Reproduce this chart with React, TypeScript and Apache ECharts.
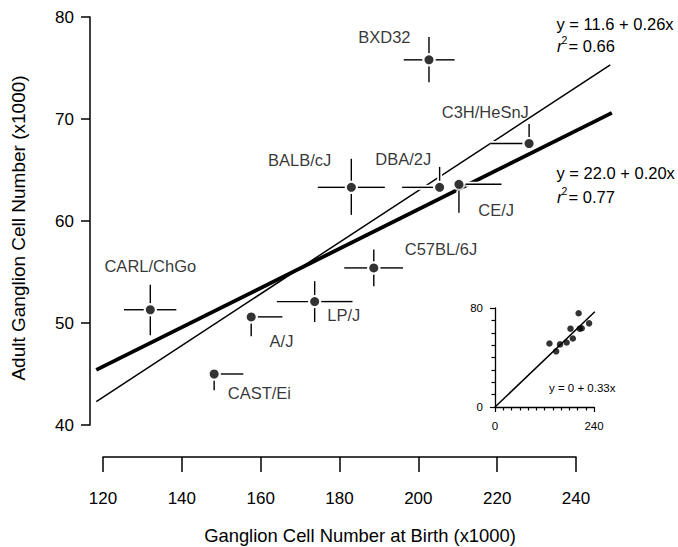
import React, { useEffect, useRef } from "react";
import * as echarts from "echarts";

// ---- data ----
const strains = ["BXD32", "C3H/HeSnJ", "DBA/2J", "BALB/cJ", "CE/J", "C57BL/6J", "CARL/ChGo", "LP/J", "A/J", "CAST/Ei"];
const birthCount = [202.7, 228.1, 205.4, 183.0, 210.3, 188.7, 132.0, 173.7, 157.6, 148.2];
const adultCount = [75.8, 67.6, 63.3, 63.3, 63.6, 55.4, 51.3, 52.1, 50.6, 45.0];
const birthErrLow = [6.4, 9.8, 9.5, 8.5, 0, 7.5, 6.7, 9.6, 0, 0];
const birthErrHigh = [6.5, 0, 0, 8.5, 10.8, 7.4, 6.6, 9.6, 7.9, 7.4];
const adultErrLow = [2.2, 0, 0, 2.7, 2.8, 1.8, 2.5, 2.0, 1.9, 1.6];
const adultErrHigh = [2.25, 1.9, 2.0, 2.8, 0, 1.8, 2.45, 2.0, 0, 0];

const fitThinX = [118.3, 248.7];
const fitThinY = [42.3, 75.3];
const fitThickX = [118.3, 249.1];
const fitThickY = [45.4, 70.6];
const insetFitX = [0, 242];
const insetFitY = [0, 77];

const eqThin = "y = 11.6 + 0.26x";
const r2Thin = "= 0.66";
const eqThick = "y = 22.0 + 0.20x";
const r2Thick = "= 0.77";
const eqInset = "y = 0 + 0.33x";
const xTitle = "Ganglion Cell Number at Birth (x1000)";
const yTitle = "Adult Ganglion Cell Number (x1000)";

// label placement (style, px offsets from dot centre)
const labelOffsets = [
  [-44.6, -22.5], [-43.8, -31], [-36.3, -28.7], [-51.7, -27], [37.2, 26],
  [67.2, -19.3], [0, -43.3], [29.2, 13.7], [30.3, 24.3], [45.2, 19],
];

const FONT = '"Liberation Sans", Arial, Helvetica, sans-serif';

function barsRenderer(color: string, width: number) {
  return (params: any, api: any) => {
    const x = api.value(0), y = api.value(1);
    const xl = api.value(2), xh = api.value(3), yl = api.value(4), yh = api.value(5);
    const c = api.coord([x, y]);
    const gap = 6.5;
    const segs: number[][] = [];
    if (xl > 0) { const p = api.coord([x - xl, y]); segs.push([c[0] - gap, c[1], p[0], p[1]]); }
    if (xh > 0) { const p = api.coord([x + xh, y]); segs.push([c[0] + gap, c[1], p[0], p[1]]); }
    if (yh > 0) { const p = api.coord([x, y + yh]); segs.push([c[0], c[1] - gap, p[0], p[1]]); }
    if (yl > 0) { const p = api.coord([x, y - yl]); segs.push([c[0], c[1] + gap, p[0], p[1]]); }
    return {
      type: "group",
      children: segs.map((s) => ({
        type: "line",
        shape: { x1: s[0], y1: s[1], x2: s[2], y2: s[3] },
        style: { stroke: color, lineWidth: width },
      })),
    };
  };
}

function segRenderer(width: number) {
  return (params: any, api: any) => {
    const a = api.coord([api.value(0), api.value(1)]);
    const b = api.coord([api.value(2), api.value(3)]);
    return {
      type: "line",
      shape: { x1: a[0], y1: a[1], x2: b[0], y2: b[1] },
      style: { stroke: "#000", lineWidth: width, lineCap: "butt" },
    };
  };
}

function txt(x: number, y: number, text: string, size: number, extra: any = {}) {
  return {
    type: "text",
    x, y,
    ...extra,
    style: {
      text,
      font: `${extra.italic ? "italic " : ""}${size}px ${FONT}`,
      fill: "#000",
      align: extra.align || "left",
      textAlign: extra.align || "left",
      verticalAlign: "middle",
      textVerticalAlign: "middle",
    },
  };
}

export default function App() {
  const ref = useRef<HTMLDivElement>(null);
  useEffect(() => {
    if (!ref.current) return;
    const chart = echarts.init(ref.current, undefined, { renderer: "svg" });
    const pts = birthCount.map((b, i) => [b, adultCount[i]]);
    const barData = birthCount.map((b, i) => [b, adultCount[i], birthErrLow[i], birthErrHigh[i], adultErrLow[i], adultErrHigh[i]]);
    const labelled = pts.map((p, i) => ({
      value: p,
      label: {
        show: true,
        position: "inside",
        offset: labelOffsets[i],
        formatter: strains[i],
        color: "#000",
        textBorderWidth: 0,
        fontSize: 16.5,
        fontFamily: FONT,
        align: "center",
        verticalAlign: "middle",
      },
    }));
    const axisCommon = {
      splitLine: { show: false },
      axisLine: { show: true, lineStyle: { color: "#000", width: 1.5 } },
      axisTick: { show: true, lineStyle: { color: "#000", width: 1.5 } },
    };
    const option: any = {
      animation: false,
      backgroundColor: "#fff",
      textStyle: { fontFamily: FONT },
      grid: [
        { left: 103, right: 102, top: 17, bottom: 122 },
        { left: 495, right: 84, top: 308, bottom: 140 },
      ],
      xAxis: [
        {
          type: "value", gridIndex: 0, min: 120, max: 240, interval: 20, offset: 32,
          ...axisCommon,
          axisTick: { show: true, length: 15, lineStyle: { color: "#000", width: 1.5 } },
          axisLabel: { color: "#000", fontSize: 17, margin: 33, fontFamily: FONT },
        },
        {
          type: "value", gridIndex: 1, min: 0, max: 240, interval: 240,
          ...axisCommon,
          axisLine: { show: true, lineStyle: { color: "#000", width: 1.3 } },
          axisTick: { show: true, length: 5, lineStyle: { color: "#000", width: 1.2 } },
          minorTick: { show: true, splitNumber: 12, length: 3.5, lineStyle: { color: "#000", width: 1.2 } },
          axisLabel: { color: "#000", fontSize: 11.5, margin: 13, fontFamily: FONT },
        },
      ],
      yAxis: [
        {
          type: "value", gridIndex: 0, min: 40, max: 80, interval: 10, offset: 13,
          ...axisCommon,
          axisTick: { show: true, length: 9, lineStyle: { color: "#000", width: 1.5 } },
          axisLabel: { color: "#000", fontSize: 17, margin: 16, fontFamily: FONT },
        },
        {
          type: "value", gridIndex: 1, min: 0, max: 80, interval: 80,
          ...axisCommon,
          axisLine: { show: true, lineStyle: { color: "#000", width: 1.3 } },
          axisTick: { show: true, length: 5, lineStyle: { color: "#000", width: 1.2 } },
          minorTick: { show: true, splitNumber: 8, length: 3.5, lineStyle: { color: "#000", width: 1.2 } },
          axisLabel: { color: "#000", fontSize: 11.5, margin: 12, fontFamily: FONT },
        },
      ],
      series: [
        {
          type: "custom", xAxisIndex: 0, yAxisIndex: 0, z: 1, clip: false,
          renderItem: segRenderer(1.5),
          data: [[fitThinX[0], fitThinY[0], fitThinX[1], fitThinY[1]]],
        },
        {
          type: "custom", xAxisIndex: 0, yAxisIndex: 0, z: 1, clip: false,
          renderItem: segRenderer(3.8),
          data: [[fitThickX[0], fitThickY[0], fitThickX[1], fitThickY[1]]],
        },
        {
          type: "custom", xAxisIndex: 0, yAxisIndex: 0, z: 2, clip: false,
          renderItem: barsRenderer("#fff", 5),
          data: barData,
        },
        {
          type: "custom", xAxisIndex: 0, yAxisIndex: 0, z: 3, clip: false,
          renderItem: barsRenderer("#000", 1.4),
          data: barData,
        },
        {
          type: "scatter", xAxisIndex: 0, yAxisIndex: 0, z: 4, symbolSize: 13,
          itemStyle: { color: "#fff" }, data: pts, silent: true,
        },
        {
          type: "scatter", xAxisIndex: 0, yAxisIndex: 0, z: 5, symbolSize: 9,
          itemStyle: { color: "#000" }, data: labelled,
        },
        {
          type: "custom", xAxisIndex: 1, yAxisIndex: 1, z: 1, clip: false,
          renderItem: segRenderer(1.5),
          data: [[insetFitX[0], insetFitY[0], insetFitX[1], insetFitY[1]]],
        },
        {
          type: "scatter", xAxisIndex: 1, yAxisIndex: 1, z: 5, symbolSize: 6.5,
          itemStyle: { color: "#000" }, data: pts,
        },
      ],
      graphic: [
        txt(360, 535, xTitle, 18.4, { align: "center" }),
        txt(18, 228, yTitle, 19, { align: "center", rotation: Math.PI / 2 }),
        txt(556.5, 24, eqThin, 16.5),
        txt(557, 46, "r", 16.5, { italic: true }),
        txt(561.5, 40, "2", 10.5),
        txt(568.5, 46, r2Thin, 16.5),
        txt(556.5, 173.3, eqThick, 16.5),
        txt(557, 196.7, "r", 16.5, { italic: true }),
        txt(561.5, 190.7, "2", 10.5),
        txt(568.5, 196.7, r2Thick, 16.5),
        txt(549, 388, eqInset, 11.5),
      ],
    };
    chart.setOption(option);
    return () => chart.dispose();
  }, []);
  return <div ref={ref} style={{ position: "fixed", left: 0, top: 0, width: 678, height: 547 }} />;
}
